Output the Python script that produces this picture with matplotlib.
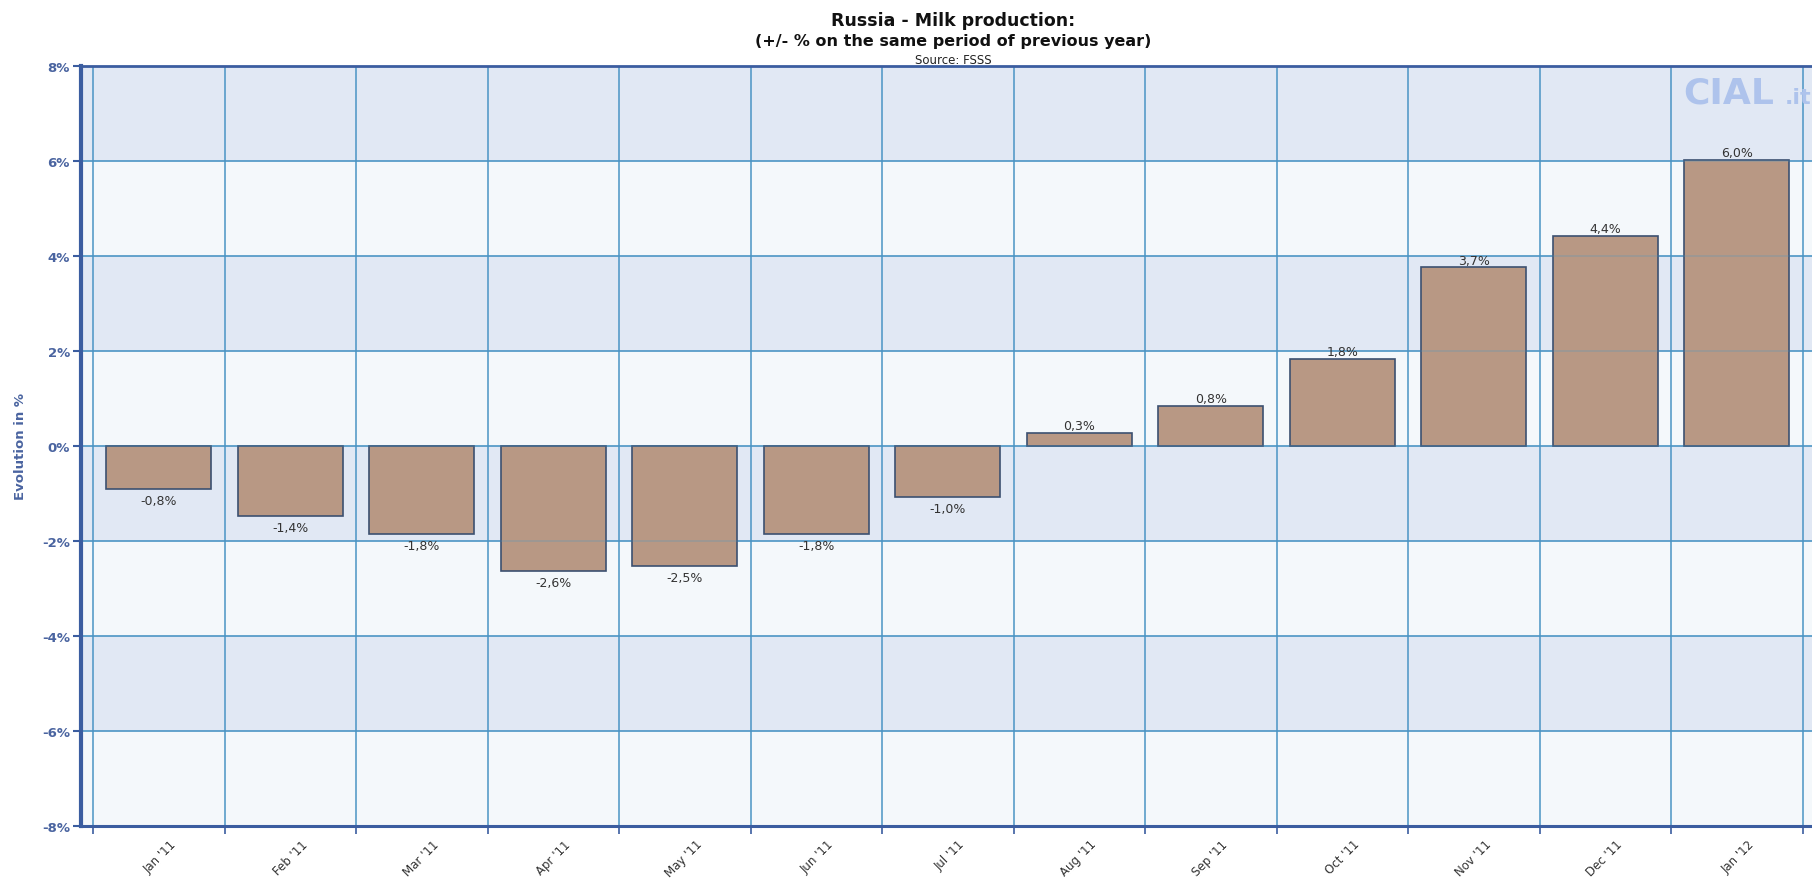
import matplotlib
matplotlib.use("Agg")
import matplotlib.pyplot as plt
from matplotlib.transforms import ScaledTranslation

# data
months = ["Jan '11", "Feb '11", "Mar '11", "Apr '11", "May '11", "Jun '11", "Jul '11",
          "Aug '11", "Sep '11", "Oct '11", "Nov '11", "Dec '11", "Jan '12"]
change = [-0.90, -1.47, -1.85, -2.63, -2.53, -1.85, -1.08, 0.28, 0.85, 1.83, 3.76, 4.42, 6.02]
value_labels = ['-0,8%', '-1,4%', '-1,8%', '-2,6%', '-2,5%', '-1,8%', '-1,0%',
                '0,3%', '0,8%', '1,8%', '3,7%', '4,4%', '6,0%']
y_ticks = [-8, -6, -4, -2, 0, 2, 4, 6, 8]

axis_col = '#3B5DA0'
text_blue = '#4A64A0'
grid_col = '#4A94C4'
band_dark = '#E1E8F4'
band_light = '#F4F8FB'
bar_col = '#B89884'
bar_edge = '#3C5070'

W, H = 1812, 879
fig = plt.figure(figsize=(W / 100, H / 100), dpi=100)
ax = fig.add_axes([81 / W, 1 - 827 / H, (W - 81) / W, (827 - 67) / H])
ax.set_facecolor(band_light)

n = len(months)
x = list(range(n))
ax.set_xlim(-0.5 - 12 / 131.5, -0.5 - 12 / 131.5 + (W - 81) / 131.5)
ax.set_ylim(-8, 8)

# alternating horizontal bands
for lo in [6, 2, -2, -6]:
    ax.axhspan(lo, lo + 2, color=band_dark, zorder=0, lw=0)

ax.bar(x, change, width=0.8, color=bar_col, edgecolor=bar_edge, linewidth=1.2, zorder=2)

# grid lines at category boundaries and y ticks
bounds = [i - 0.5 for i in range(n + 1)]
ax.set_xticks(bounds)
ax.set_xticklabels([])
ax.set_yticks(y_ticks)
ax.set_yticklabels([f"{v}%" for v in y_ticks])
ax.set_axisbelow(True)
ax.grid(True, color=grid_col, lw=1.1, zorder=1)
for yv in y_ticks:
    ax.axhline(yv, color=grid_col, lw=1.1, alpha=0.3, zorder=2.5)

# month labels between grid lines
ax.set_xticks(x, minor=True)
ax.set_xticklabels(months, minor=True, rotation=45, ha='right', va='center',
                   rotation_mode='anchor', fontsize=8.5, color='#333333')
ax.tick_params(axis='x', which='minor', length=0, pad=11.5)
ax.tick_params(axis='x', which='major', length=6, width=1.2, color=axis_col)
offset = ScaledTranslation(11 / 72, 0, fig.dpi_scale_trans)
for lab in ax.get_xticklabels(minor=True):
    lab.set_transform(lab.get_transform() + offset)

ax.tick_params(axis='y', length=6, width=1.5, color=axis_col, labelcolor=text_blue,
               labelsize=9.5, pad=2)
for lab in ax.get_yticklabels():
    lab.set_fontweight('bold')

ax.spines['right'].set_visible(False)
ax.spines['left'].set_linewidth(3)
ax.spines['bottom'].set_linewidth(2.2)
ax.spines['top'].set_linewidth(2)
for s in ['left', 'bottom', 'top']:
    ax.spines[s].set_color(axis_col)

# value labels
for xi, v, lab in zip(x, change, value_labels):
    if v >= 0:
        ax.annotate(lab, (xi, v), xytext=(0, 0.5), textcoords='offset points',
                    ha='center', va='bottom', fontsize=9, color='#333333', zorder=4)
    else:
        ax.annotate(lab, (xi, v), xytext=(0, -3.5), textcoords='offset points',
                    ha='center', va='top', fontsize=9, color='#333333', zorder=4)

# titles
cx = 953 / W
fig.text(cx, 1 - 26 / H, "Russia - Milk production:", ha='center', va='baseline',
         fontsize=12.5, fontweight='bold', color='#111111')
fig.text(cx, 1 - 46 / H, "(+/- % on the same period of previous year)", ha='center',
         va='baseline', fontsize=11.5, fontweight='bold', color='#111111')
fig.text(cx, 1 - 64 / H, "Source: FSSS", ha='center', va='baseline',
         fontsize=8.5, color='#222222')

fig.text(21 / W, 1 - 447 / H, "Evolution in %", rotation=90, ha='center', va='center',
         fontsize=9.5, fontweight='bold', color=text_blue)

# watermark
fig.text(1683 / W, 1 - 104 / H, "CIAL", ha='left', va='baseline', fontsize=26,
         fontweight='bold', color='#AEC3EC', zorder=1)
fig.text(1785 / W, 1 - 104 / H, ".it", ha='left', va='baseline', fontsize=16,
         fontweight='bold', color='#AEC3EC', zorder=1)

fig.savefig("out.png", dpi=100)
